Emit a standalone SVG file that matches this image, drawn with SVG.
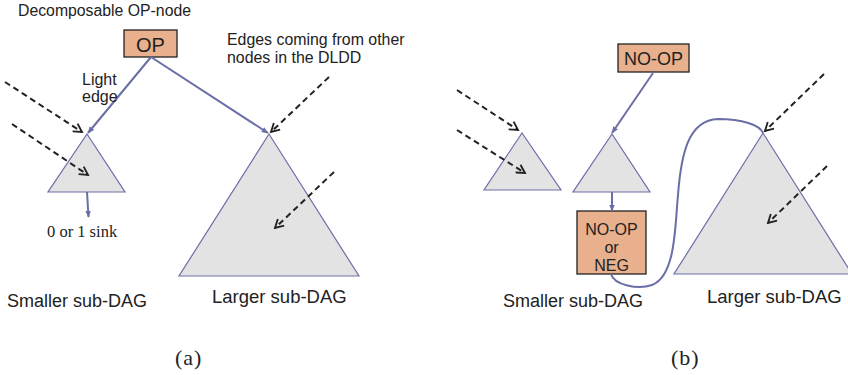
<svg xmlns="http://www.w3.org/2000/svg" width="848" height="375" viewBox="0 0 848 375">
<defs>
<marker id="sa" viewBox="0 0 10 10" refX="9" refY="5" markerWidth="7" markerHeight="7" orient="auto" markerUnits="userSpaceOnUse"><path d="M0,1 L10,5 L0,9 Z" fill="#6a6ea6"/></marker>
<marker id="da" viewBox="0 0 12 12" refX="10" refY="6" markerWidth="11" markerHeight="11" orient="auto" markerUnits="userSpaceOnUse"><path d="M1,1 L10,6 L1,11" fill="none" stroke="#222" stroke-width="2"/></marker>
</defs>
<style>
.tri{fill:#e3e3e3;stroke:#6a6ea6;stroke-width:1.2}
.box{fill:#e8b08c;stroke:#222;stroke-width:1.3}
.edge{fill:none;stroke:#6a6ea6;stroke-width:2}
.dash{fill:none;stroke:#222;stroke-width:2;stroke-dasharray:6,4}
.sans{font-family:"Liberation Sans",Arial,sans-serif;fill:#222}
.serif{font-family:"Liberation Serif","Times New Roman",serif;fill:#222}
</style>
<rect width="848" height="375" fill="#fff"/>

<!-- Panel (a) -->
<g id="small-dag-a"><polygon class="tri" points="87,134 48,192 125,192"/></g>
<g id="large-dag-a"><polygon class="tri" points="269,134 179,276 359,276"/></g>
<g id="op-node"><rect class="box" x="124" y="30" width="53" height="27"/><text class="sans" x="150.5" y="51.5" font-size="20" text-anchor="middle">OP</text></g>

<!-- Panel (b) -->
<g id="small-dag-b1"><polygon class="tri" points="522,133 484,190 561,190"/></g>
<g id="small-dag-b2"><polygon class="tri" points="612,134 573,192 650,192"/></g>
<g id="large-dag-b"><polygon class="tri" points="763,133 674,274 852,274"/></g>
<g id="noop-node"><rect class="box" x="618" y="44" width="71" height="28"/><text class="sans" x="653.5" y="65" font-size="18" text-anchor="middle">NO-OP</text></g>
<g id="noop-neg-node"><rect class="box" x="577" y="211" width="69" height="63"/>
<text class="sans" x="611.5" y="235" font-size="16" text-anchor="middle">NO-OP</text>
<text class="sans" x="611.5" y="253" font-size="16" text-anchor="middle">or</text>
<text class="sans" x="611.5" y="271" font-size="16" text-anchor="middle">NEG</text></g>

<g id="connectors">
<line class="edge" x1="151" y1="57" x2="88" y2="133" marker-end="url(#sa)"/>
<line class="edge" x1="151" y1="57" x2="268" y2="133" marker-end="url(#sa)"/>
<line class="edge" x1="87" y1="192" x2="88.5" y2="217" marker-end="url(#sa)"/>
<line class="dash" x1="5" y1="82" x2="82" y2="132" marker-end="url(#da)"/>
<line class="dash" x1="12" y1="124" x2="88" y2="175" marker-end="url(#da)"/>
<line class="dash" x1="329" y1="77" x2="271" y2="132" marker-end="url(#da)"/>
<line class="dash" x1="334" y1="172" x2="275" y2="228" marker-end="url(#da)"/>

<line class="edge" x1="653" y1="73" x2="612" y2="133" marker-end="url(#sa)"/>
<line class="edge" x1="612" y1="192" x2="612" y2="211" marker-end="url(#sa)"/>
<path class="edge" d="M611,274 C614,285 638,290 652,285 C676,276 675,225 678,195 C681,155 688,120 718,119 C742,119 760,125 763,133"/>
<line class="dash" x1="457" y1="90" x2="518" y2="130" marker-end="url(#da)"/>
<line class="dash" x1="457" y1="130" x2="525" y2="173" marker-end="url(#da)"/>
<line class="dash" x1="824" y1="74" x2="765" y2="131" marker-end="url(#da)"/>
<line class="dash" x1="827" y1="166" x2="768" y2="223" marker-end="url(#da)"/>
</g>

<!-- labels -->
<text class="sans" x="18" y="16" font-size="15.8">Decomposable OP-node</text>
<text class="sans" x="82" y="85" font-size="16">Light</text>
<text class="sans" x="82" y="102" font-size="16">edge</text>
<text class="sans" x="227" y="45" font-size="15.9">Edges coming from other</text>
<text class="sans" x="227" y="63" font-size="15.9">nodes in the DLDD</text>
<text class="serif" x="47" y="237" font-size="16.5">0 or 1 sink</text>
<text class="sans" x="7" y="307" font-size="18">Smaller sub-DAG</text>
<text class="sans" x="212" y="303" font-size="18.5">Larger sub-DAG</text>
<text class="serif" x="175" y="365" font-size="22" letter-spacing="1">(a)</text>
<text class="sans" x="503" y="307" font-size="18">Smaller sub-DAG</text>
<text class="sans" x="707" y="303" font-size="18.5">Larger sub-DAG</text>
<text class="serif" x="671" y="365" font-size="22" letter-spacing="1">(b)</text>
</svg>
